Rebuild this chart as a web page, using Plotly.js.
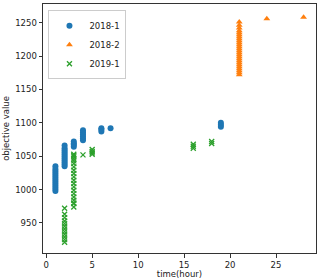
<!DOCTYPE html>
<html>
<head>
<meta charset="utf-8">
<script src="https://cdn.plot.ly/plotly-3.0.1.min.js"></script>
<style>html,body{margin:0;padding:0;background:#fff;}#chart{width:317px;height:279px;}</style>
</head>
<body>
<div id="chart"></div>
<script>
// 2018-1 (blue circles)
var s1_hours  = [1,1,1,1,1,1,1,1,1,1,1,1,1, 2,2,2,2,2,2,2,2,2,2,2, 3,3,3,3, 4,4,4,4,4,4, 6,6,6, 7, 19,19,19];
var s1_values = [998,1001,1004,1007,1010,1013,1016,1019,1022,1025,1028,1031,1035,
                 1035,1038,1041,1044,1047,1050,1053,1056,1059,1062,1066,
                 1064,1067,1069,1072,
                 1074,1077,1080,1083,1086,1089,
                 1087,1090,1092, 1092, 1094,1097,1100];
// 2018-2 (orange triangles)
var s2_hours  = [21,21,21,21,21,21,21,21,21,21,21,21,21,21,21,21,21,21,21,21,21,21,21,21,21,21, 24, 28];
var s2_values = [1172,1175,1178,1181,1184,1187,1190,1193,1196,1199,1202,1205,1208,1211,1214,1217,1220,1223,1226,1229,1232,1235,1238,1242,1246,1251, 1256, 1258];
// 2019-1 (green x)
var s3_hours  = [2,2,2,2,2,2,2,2,2,2,2,2, 3,3,3,3,3,3,3,3,3,3,3,3,3,3,3,3,3,3,3,3, 4, 5,5,5,5, 16,16,16, 18,18];
var s3_values = [921,925,929,933,937,941,945,949,953,958,963,972,
                 974,979,984,989,994,999,1004,1009,1014,1019,1024,1029,1034,1039,1043,1046,1049,1051,1053,980,
                 1052, 1053,1055,1057,1060, 1062,1065,1068, 1069,1072];
var seriesNames = ['2018-1','2018-2','2019-1'];
var xTicks = [0,5,10,15,20,25];
var yTicks = [950,1000,1050,1100,1150,1200,1250];

var font = {family:'DejaVu Sans', size:8.5, color:'#222'};
var traces = [
  {x:s1_hours, y:s1_values, name:seriesNames[0], type:'scatter', mode:'markers',
   marker:{symbol:'circle', size:6, color:'#1f77b4'}},
  {x:s2_hours, y:s2_values, name:seriesNames[1], type:'scatter', mode:'markers',
   marker:{symbol:'triangle-up', size:6, color:'#ff7f0e'}},
  {x:s3_hours, y:s3_values, name:seriesNames[2], type:'scatter', mode:'markers',
   marker:{symbol:'x-thin-open', size:5, color:'#2ca02c', line:{color:'#2ca02c', width:1.3}}}
];
var layout = {
  width:317, height:279,
  margin:{l:43, r:1, t:4, b:26},
  paper_bgcolor:'#fff', plot_bgcolor:'#fff',
  font:font,
  showlegend:true,
  legend:{x:0.02, y:0.975, xanchor:'left', yanchor:'top', bgcolor:'rgba(255,255,255,0.8)',
          bordercolor:'#ccc', borderwidth:1, font:{family:'DejaVu Sans', size:8.5, color:'#222'},
          itemwidth:30, tracegroupgap:0},
  xaxis:{range:[-0.35,29.35], tickvals:xTicks, ticks:'outside', ticklen:3.5, tickcolor:'#333',
         showgrid:false, zeroline:false, showline:true, mirror:true, linecolor:'#333', linewidth:1,
         tickfont:font, title:{text:'time(hour)', font:font, standoff:3}},
  yaxis:{range:[905,1278], tickvals:yTicks, ticks:'outside', ticklen:3.5, tickcolor:'#333',
         showgrid:false, zeroline:false, showline:true, mirror:true, linecolor:'#333', linewidth:1,
         tickfont:font, title:{text:'objective value', font:font, standoff:4}}
};
Plotly.newPlot('chart', traces, layout, {displayModeBar:false, staticPlot:true});
</script>
</body>
</html>
